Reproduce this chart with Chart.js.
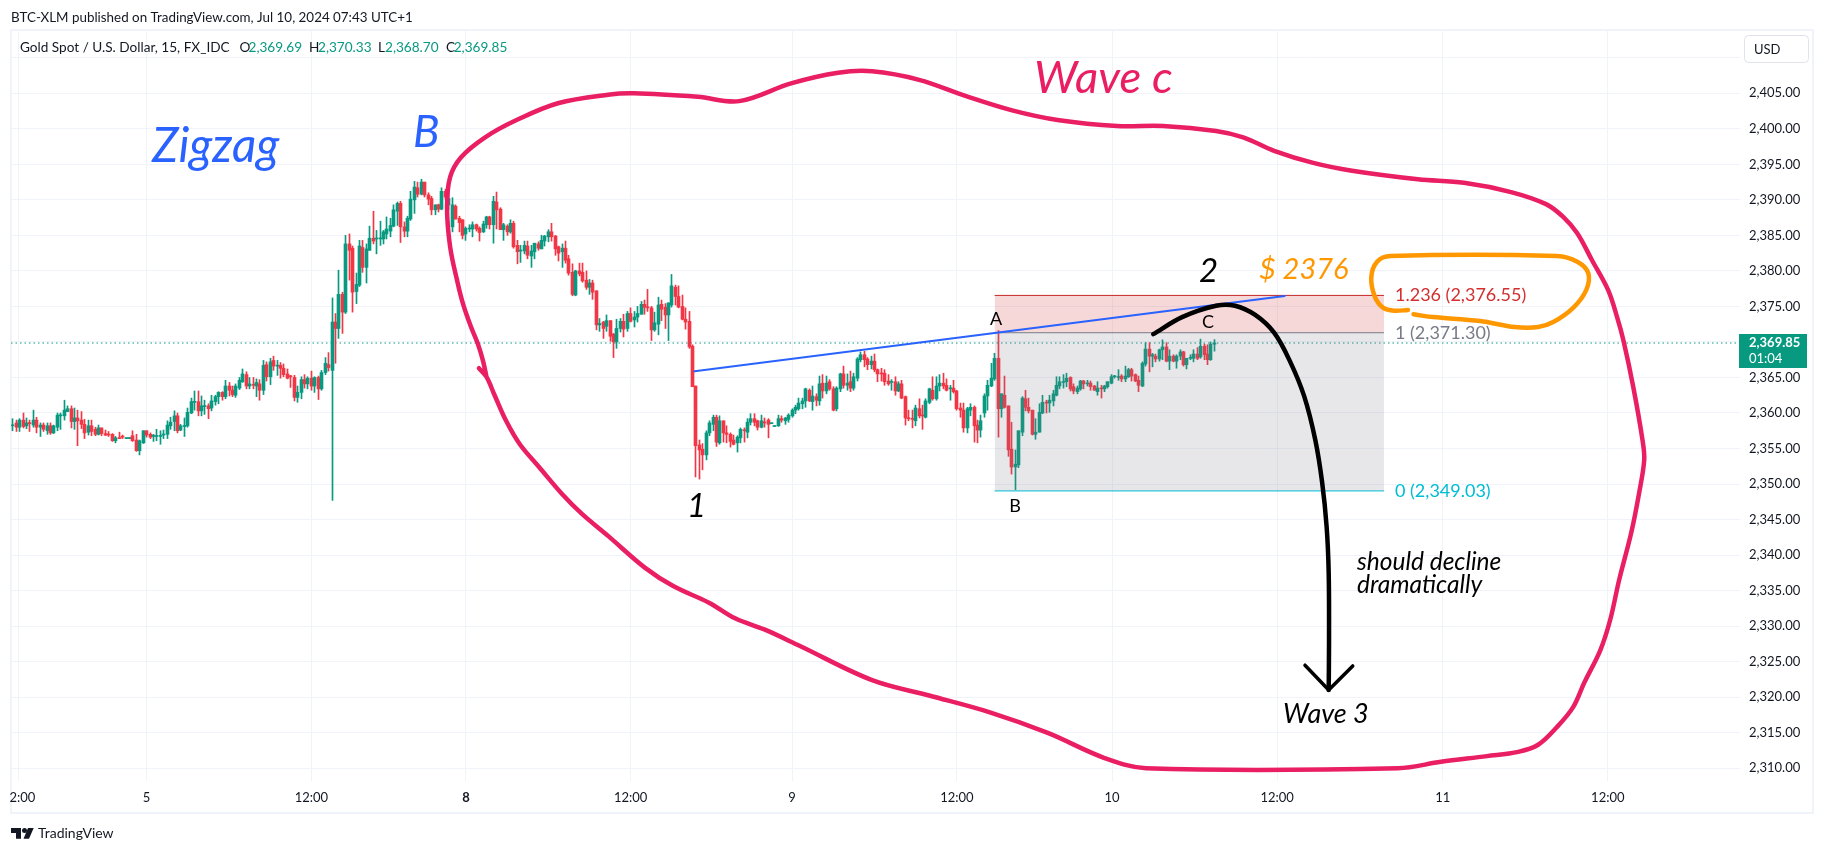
<!DOCTYPE html>
<html>
<head>
<meta charset="utf-8">
<title>Gold Spot / U.S. Dollar</title>
<script src="https://cdn.jsdelivr.net/npm/chart.js@4"></script>
<style>
  html, body { margin: 0; padding: 0; background: #fff; }
  #wrap { width: 1824px; height: 853px; }
</style>
</head>
<body>
<div id="wrap"><canvas id="goldChart" width="1824" height="853"></canvas></div>
<script>
// 15 min candles, one value per bar
const opens = [
2358.2,2358.6,2358.0,2359.0,2358.2,2358.6,2358.3,2359.0,2358.0,2358.3,
2357.5,2358.2,2357.2,2358.0,2359.6,2359.6,2360.2,2360.6,2358.8,2359.3,
2359.0,2358.4,2357.3,2358.2,2357.7,2357.0,2357.9,2357.1,2357.0,2357.0,
2356.1,2356.5,2356.7,2356.4,2356.4,2356.8,2356.2,2354.7,2355.8,2357.5,
2357.0,2356.7,2356.7,2356.7,2356.9,2357.0,2358.2,2358.8,2359.6,2357.6,
2358.1,2358.2,2360.0,2361.5,2361.6,2360.3,2360.9,2361.0,2360.7,2361.6,
2362.3,2362.9,2362.3,2363.8,2363.2,2362.5,2363.5,2364.4,2365.4,2363.8,
2364.0,2363.8,2364.1,2363.2,2366.8,2365.1,2367.4,2366.6,2366.7,2366.3,
2365.5,2365.2,2365.0,2362.2,2362.9,2364.7,2364.1,2364.9,2363.8,2365.0,
2363.4,2365.7,2366.8,2366.0,2372.8,2371.9,2376.7,2374.2,2383.8,2383.2,
2377.1,2378.0,2383.3,2380.5,2382.9,2384.6,2384.5,2384.5,2384.5,2385.2,
2385.6,2386.3,2388.4,2389.5,2386.2,2385.6,2387.3,2390.0,2391.7,2390.8,
2392.5,2390.7,2390.2,2388.6,2389.3,2388.7,2391.2,2389.3,2386.2,2389.1,
2387.4,2387.2,2385.2,2385.9,2385.9,2386.5,2386.0,2385.5,2386.5,2387.6,
2386.5,2389.7,2388.7,2385.8,2386.3,2385.5,2386.7,2383.6,2382.8,2382.8,
2383.5,2382.1,2382.7,2383.8,2383.1,2384.2,2384.8,2385.5,2384.9,2383.4,
2382.7,2383.2,2381.7,2379.8,2376.6,2380.0,2379.8,2378.7,2377.7,2378.3,
2377.2,2372.4,2372.8,2372.2,2373.0,2371.1,2370.0,2371.9,2372.9,2371.9,
2374.0,2373.1,2373.5,2373.9,2375.3,2374.9,2374.8,2371.7,2372.5,2375.3,
2374.9,2373.8,2375.2,2377.7,2376.4,2375.0,2373.2,2372.9,2369.4,2363.8,
2355.5,2354.9,2354.1,2357.2,2358.4,2359.4,2355.8,2358.9,2357.2,2357.0,
2356.2,2355.8,2356.5,2357.6,2357.3,2358.7,2359.2,2358.9,2358.0,2358.7,
2359.0,2358.5,2358.1,2358.2,2359.2,2358.9,2359.1,2359.6,2360.4,2360.6,
2361.3,2361.7,2363.2,2361.6,2362.3,2361.7,2364.2,2363.1,2364.4,2363.4,
2360.6,2363.4,2365.5,2363.9,2364.4,2363.5,2364.9,2367.5,2368.2,2367.6,
2366.8,2367.3,2366.1,2365.6,2365.6,2364.5,2364.3,2364.4,2363.1,2364.1,
2362.3,2359.3,2359.2,2358.9,2360.6,2359.7,2359.4,2361.5,2363.2,2362.0,
2363.8,2364.2,2363.9,2363.4,2363.5,2363.1,2360.7,2360.4,2357.9,2360.4,
2360.8,2358.3,2357.6,2360.0,2362.4,2363.8,2364.8,2367.7,2360.6,2362.5,
2361.0,2354.9,2352.4,2352.7,2357.3,2362.0,2360.8,2360.4,2357.0,2357.3,
2360.0,2361.5,2361.4,2361.7,2362.5,2363.8,2364.3,2364.4,2365.0,2363.7,
2363.0,2363.4,2364.5,2364.1,2364.2,2363.8,2363.0,2363.5,2363.4,2363.7,
2364.2,2365.1,2365.0,2365.2,2364.8,2365.1,2366.1,2365.4,2364.6,2363.8,
2366.9,2369.0,2368.0,2368.0,2367.6,2368.9,2369.3,2367.3,2368.0,2367.3,
2368.0,2368.6,2366.8,2367.7,2367.7,2368.3,2367.9,2369.4,2368.3,2367.5,2369.69
];
const highs = [
2359.2,2359.0,2359.2,2360.0,2359.3,2359.0,2360.4,2359.4,2358.6,2358.6,
2358.6,2358.6,2358.3,2360.0,2360.0,2361.8,2361.0,2361.0,2360.7,2360.4,
2360.2,2359.1,2359.0,2359.0,2358.0,2358.3,2357.9,2357.6,2357.4,2357.1,
2356.7,2357.3,2356.9,2356.5,2356.5,2357.5,2357.0,2356.2,2357.5,2357.5,
2357.2,2357.0,2357.7,2357.5,2357.6,2358.9,2359.4,2360.3,2360.0,2358.4,
2359.3,2360.7,2362.1,2363.1,2363.1,2362.4,2361.8,2361.3,2362.5,2362.5,
2363.0,2363.0,2364.6,2364.3,2363.8,2364.1,2365.0,2366.2,2365.8,2365.0,
2365.0,2364.8,2364.7,2367.4,2367.2,2367.7,2368.0,2367.4,2367.1,2366.9,
2366.2,2365.3,2365.3,2363.8,2365.1,2365.4,2365.1,2365.9,2365.1,2365.2,
2366.0,2367.8,2368.5,2376.2,2374.0,2380.1,2377.0,2385.0,2385.2,2383.5,
2379.7,2384.3,2384.3,2383.8,2386.3,2388.4,2385.7,2387.0,2385.7,2387.6,
2387.4,2389.3,2389.7,2389.8,2386.9,2387.7,2391.2,2392.6,2392.5,2392.9,
2392.5,2391.0,2390.5,2389.3,2389.4,2391.7,2391.5,2390.9,2390.3,2389.3,
2387.7,2387.2,2386.2,2386.5,2386.9,2386.6,2386.2,2387.0,2387.7,2387.7,
2390.5,2391.1,2388.9,2386.7,2386.5,2387.2,2387.0,2384.3,2383.6,2384.2,
2384.2,2383.6,2383.9,2384.1,2385.0,2385.0,2385.8,2386.7,2385.0,2383.5,
2383.8,2384.2,2382.2,2381.0,2380.1,2381.1,2381.1,2380.0,2378.8,2378.7,
2377.2,2373.3,2372.9,2373.8,2373.0,2371.2,2373.2,2373.3,2373.9,2374.3,
2374.8,2374.3,2375.0,2375.7,2375.9,2377.4,2375.0,2374.2,2376.3,2375.9,
2375.4,2375.5,2379.5,2378.0,2377.9,2376.6,2374.8,2374.3,2369.6,2363.8,
2356.2,2355.7,2357.5,2358.9,2359.7,2359.7,2359.6,2358.9,2358.2,2357.2,
2356.9,2356.8,2357.9,2357.9,2359.2,2359.9,2359.9,2359.0,2359.7,2359.3,
2359.2,2358.6,2358.2,2359.7,2359.6,2359.4,2359.9,2360.6,2361.1,2362.1,
2362.1,2363.5,2363.4,2363.8,2362.7,2365.2,2365.4,2365.2,2364.7,2363.7,
2363.7,2365.6,2366.6,2365.5,2365.9,2365.6,2367.8,2368.6,2368.7,2367.8,
2368.0,2368.3,2366.2,2366.3,2366.1,2365.4,2364.7,2365.1,2364.4,2364.6,
2362.4,2360.4,2360.4,2361.1,2362.0,2361.1,2362.0,2363.5,2365.1,2365.1,
2365.4,2365.6,2364.8,2363.9,2364.6,2363.2,2361.4,2361.4,2360.8,2361.3,
2361.0,2359.0,2359.7,2362.7,2364.6,2367.0,2368.4,2371.6,2362.7,2365.2,
2361.0,2358.7,2354.8,2357.5,2362.3,2363.2,2362.1,2360.4,2359.2,2361.3,
2362.5,2361.8,2362.5,2363.2,2365.1,2365.1,2365.4,2365.6,2365.1,2364.1,
2363.8,2364.6,2364.6,2364.6,2364.5,2363.9,2364.4,2363.9,2363.9,2364.4,
2365.4,2365.3,2366.1,2365.4,2366.6,2366.3,2366.3,2365.5,2365.2,2367.2,
2369.9,2369.9,2368.4,2368.3,2369.0,2370.3,2369.9,2368.9,2368.2,2368.2,
2368.9,2368.7,2367.7,2368.2,2368.9,2369.2,2370.4,2369.7,2369.6,2370.0,2370.33
];
const lows = [
2357.5,2357.4,2357.4,2357.9,2357.8,2357.4,2358.0,2357.2,2356.7,2357.4,
2357.0,2357.0,2357.1,2357.5,2357.7,2359.0,2360.2,2357.9,2357.7,2355.4,
2357.8,2356.4,2356.9,2356.8,2356.8,2356.9,2356.8,2356.8,2356.7,2356.0,
2355.8,2356.4,2356.4,2356.4,2356.4,2356.0,2354.6,2354.1,2355.7,2356.6,
2356.4,2356.0,2356.1,2355.6,2356.4,2356.4,2357.7,2357.5,2357.2,2357.5,
2356.7,2358.0,2359.9,2360.4,2359.6,2359.6,2359.8,2359.2,2360.3,2361.1,
2361.3,2361.8,2362.0,2362.4,2362.3,2362.2,2363.3,2364.3,2363.4,2363.4,
2363.4,2362.3,2361.8,2362.6,2364.5,2364.0,2366.0,2365.3,2364.9,2365.1,
2364.8,2363.6,2361.7,2361.5,2362.0,2363.5,2363.4,2363.2,2362.9,2361.9,
2363.2,2365.4,2365.9,2347.7,2367.0,2370.5,2371.2,2374.0,2378.7,2374.2,
2375.4,2377.8,2379.8,2378.3,2382.9,2383.8,2382.4,2383.6,2383.8,2384.5,
2384.8,2386.2,2386.4,2384.0,2384.8,2384.8,2387.1,2388.1,2390.4,2390.7,
2390.4,2389.3,2387.9,2387.9,2388.3,2388.6,2390.1,2388.6,2385.5,2387.3,
2385.5,2384.5,2384.3,2385.5,2384.8,2385.6,2384.2,2385.4,2386.0,2385.9,
2383.9,2385.9,2385.8,2384.3,2385.0,2385.3,2383.2,2381.0,2381.2,2382.4,
2381.7,2380.5,2381.7,2382.9,2383.1,2383.5,2384.1,2384.2,2382.2,2381.4,
2380.5,2381.1,2379.4,2376.5,2376.5,2379.3,2378.4,2377.4,2376.7,2376.0,
2371.7,2371.5,2370.5,2371.5,2370.1,2367.8,2369.1,2371.4,2370.7,2371.5,
2372.8,2372.1,2372.8,2373.9,2373.9,2374.3,2370.2,2371.5,2371.0,2373.0,
2371.9,2370.2,2374.9,2375.2,2374.8,2373.1,2371.8,2369.1,2363.7,2351.0,
2350.7,2352.0,2353.4,2356.8,2357.5,2355.3,2355.6,2355.9,2355.8,2355.2,
2355.5,2354.5,2355.8,2355.9,2356.5,2358.3,2358.2,2357.6,2357.9,2358.0,
2356.5,2358.5,2358.1,2358.1,2358.7,2358.4,2358.7,2359.4,2359.9,2360.4,
2360.6,2360.8,2361.6,2360.4,2361.0,2361.1,2362.1,2362.7,2363.2,2360.3,
2360.3,2363.0,2363.5,2363.2,2363.0,2363.2,2364.5,2367.2,2366.5,2366.1,
2366.2,2365.8,2364.4,2364.5,2363.9,2363.9,2363.2,2362.5,2363.0,2362.0,
2358.3,2358.9,2357.9,2358.2,2359.3,2357.7,2359.3,2361.3,2361.8,2361.8,
2363.1,2363.4,2363.1,2361.8,2362.8,2360.4,2359.4,2357.3,2357.2,2359.6,
2355.9,2355.8,2356.6,2359.4,2360.4,2363.7,2364.6,2356.6,2359.4,2360.7,
2353.9,2351.4,2349.2,2352.3,2356.8,2360.3,2360.0,2356.9,2356.3,2357.3,
2359.9,2360.0,2360.1,2361.0,2362.4,2363.4,2363.5,2363.7,2363.1,2362.7,
2362.7,2363.2,2363.4,2363.8,2363.2,2363.2,2362.5,2362.1,2363.0,2363.5,
2364.1,2364.9,2364.6,2364.4,2364.4,2365.0,2364.5,2364.4,2363.0,2363.7,
2366.6,2365.8,2366.5,2367.2,2367.3,2367.5,2367.2,2366.1,2367.2,2366.3,
2367.5,2366.6,2366.2,2367.5,2367.2,2367.5,2367.7,2367.5,2366.8,2367.4,2368.70
];
const closes = [
2358.3,2358.0,2359.0,2358.1,2358.6,2358.5,2359.0,2358.0,2358.3,2357.7,
2358.2,2357.2,2358.2,2359.7,2359.7,2360.4,2360.6,2358.8,2359.3,2358.9,
2358.4,2357.2,2358.2,2357.4,2357.0,2357.9,2357.1,2356.9,2356.9,2356.1,
2356.5,2356.4,2356.6,2356.5,2356.5,2356.1,2354.7,2356.1,2357.5,2356.9,
2356.6,2356.8,2356.8,2356.8,2357.0,2358.3,2358.7,2359.6,2357.5,2358.2,
2358.2,2360.1,2361.6,2361.6,2360.3,2361.0,2361.0,2360.6,2361.7,2362.3,
2362.9,2362.3,2363.8,2363.2,2362.6,2363.8,2364.6,2365.5,2363.8,2364.1,
2363.9,2364.3,2363.2,2366.7,2365.1,2367.2,2366.6,2366.7,2366.3,2365.4,
2364.9,2365.1,2362.2,2362.9,2364.7,2364.1,2364.9,2363.8,2365.0,2363.4,
2365.7,2367.0,2366.4,2372.8,2371.9,2376.7,2374.2,2383.8,2382.9,2377.0,
2378.1,2383.5,2380.5,2383.1,2384.6,2384.2,2384.6,2384.6,2385.5,2385.9,
2386.4,2388.6,2389.5,2386.2,2385.6,2387.4,2390.1,2391.8,2390.8,2392.5,
2390.7,2390.1,2388.6,2389.3,2388.7,2391.2,2390.4,2390.2,2389.3,2387.3,
2386.8,2385.0,2386.0,2386.0,2386.5,2385.9,2385.4,2386.6,2387.6,2386.5,
2389.8,2388.6,2385.8,2386.5,2385.5,2386.7,2383.4,2382.7,2382.9,2383.6,
2382.2,2382.8,2383.9,2383.2,2384.3,2384.9,2385.5,2384.8,2383.1,2382.5,
2383.2,2381.5,2379.7,2376.7,2380.0,2379.6,2378.6,2377.7,2378.3,2377.0,
2372.4,2372.6,2371.9,2373.0,2370.8,2370.0,2371.9,2372.9,2371.8,2374.0,
2372.9,2373.5,2374.0,2375.3,2374.9,2374.8,2371.7,2372.7,2375.2,2374.6,
2373.8,2375.5,2377.9,2376.4,2374.9,2373.2,2372.8,2369.3,2363.7,2355.4,
2354.8,2354.1,2357.2,2358.6,2359.4,2355.9,2358.9,2357.2,2357.0,2356.0,
2355.6,2356.6,2357.7,2357.5,2358.7,2359.2,2358.7,2358.0,2358.9,2358.6,
2358.4,2358.6,2358.2,2359.2,2359.0,2359.3,2359.7,2360.4,2360.8,2361.4,
2361.7,2363.4,2361.7,2362.4,2361.8,2364.1,2363.1,2364.2,2363.4,2360.4,
2363.5,2365.5,2363.9,2364.2,2363.5,2365.1,2367.6,2368.2,2367.5,2366.8,
2367.3,2366.1,2365.5,2365.5,2364.4,2364.1,2364.4,2363.1,2364.1,2362.1,
2359.3,2359.2,2359.1,2360.7,2359.6,2359.6,2361.7,2363.4,2362.0,2363.8,
2364.2,2363.8,2363.2,2363.5,2363.0,2360.6,2360.4,2357.9,2360.6,2360.8,
2358.2,2357.6,2358.9,2362.4,2363.9,2364.9,2367.7,2360.6,2362.7,2360.8,
2354.8,2352.4,2352.8,2357.5,2362.1,2360.8,2360.3,2357.0,2357.3,2360.1,
2361.5,2361.4,2361.8,2362.7,2363.9,2364.4,2364.4,2364.9,2363.4,2363.1,
2363.5,2364.5,2364.1,2364.2,2363.7,2363.2,2363.5,2363.4,2363.8,2364.4,
2365.1,2365.2,2365.1,2364.8,2365.2,2366.1,2365.2,2364.5,2363.9,2367.0,
2369.0,2368.0,2368.2,2367.6,2368.9,2369.3,2367.3,2368.0,2367.3,2368.0,
2368.6,2366.8,2367.7,2367.8,2368.3,2367.7,2369.4,2368.2,2367.5,2369.7,2369.85
];

// axes: x is the bar number, so weekend gaps close up like on the original
const timeTickBars = [1.7, 39, 87, 132, 180, 227, 275, 320.2, 368.3, 416.5, 464.6];
const timeTickLabels = ['12:00', '5', '12:00', '8', '12:00', '9', '12:00', '10', '12:00', '11', '12:00'];
const priceTicks = [2310, 2315, 2320, 2325, 2330, 2335, 2340, 2345, 2350, 2355, 2360, 2365, 2370,
  2375, 2380, 2385, 2390, 2395, 2400, 2405, 2410];
const hiddenPriceTicks = [2370, 2410];
const lastPrice = 2369.85;

// fib levels
const fibStartBar = 286;
const fibEndBar = 399.4;
const fibTop = 2376.55;
const fibOne = 2371.30;
const fibZero = 2349.03;

// hand drawn lines, as [bar, price]
const trendLine = [[198.6, 2365.87], [370.5, 2376.47]];
const waveCurve = [
  [135.8,2366.3],[138.0,2365.07],[140.2,2362.68],[143.7,2358.9],[147.7,2355.6],[153.3,2352.4],[160.0,2348.6],
  [165.8,2345.8],[173.4,2342.7],[184.2,2338.2],[192.5,2335.6],[202.8,2333.3],[210.4,2331.1],[219.1,2329.5],
  [229.3,2327.2],[250.3,2322.4],[267.2,2320.2],[284.4,2317.9],[301.3,2315.0],[318.2,2311.4],[330.1,2310.0],
  [403.5,2310.0],[416.0,2310.9],[429.4,2311.7],[438.5,2312.3],[444.3,2313.3],[449.8,2315.8],[454.5,2318.6],
  [457.7,2322.0],[462.4,2326.6],[465.3,2330.9],[467.9,2336.5],[471.4,2343.1],[473.7,2348.7],[475.2,2353.4],
  [474.7,2356.2],[472.0,2363.7],[469.1,2370.3],[467.3,2373.5],[464.7,2377.3],[460.0,2381.5],[455.7,2385.3],
  [451.6,2387.6],[446.6,2389.4],[436.4,2391.1],[422.7,2392.4],[409.3,2392.9],[390.1,2394.1],[378.8,2395.2],
  [367.4,2396.9],[358.4,2398.8],[350.5,2399.7],[335.1,2400.4],[321.7,2400.4],[304.8,2401.2],[291.1,2402.6],
  [277.7,2404.6],[264.0,2406.9],[250.3,2408.1],[240.4,2407.9],[226.7,2406.4],[211.6,2403.9],[199.6,2404.5],
  [181.0,2405.0],[173.4,2404.8],[158.8,2403.6],[146.6,2401.2],[137.6,2398.8],[130.6,2396.0],[127.4,2393.2],
  [126.5,2389.0],[127.4,2383.4],[129.6,2378.3],[131.2,2375.3],[133.5,2372.1],[135.5,2369.7],[137.0,2367.3],
  [138.0,2365.07]
];
const targetLoop = [
  [408.0,2373.9],[409.2,2373.8],[413.7,2373.5],[427.4,2372.95],[437.5,2372.1],[444.3,2372.1],[448.7,2372.8],
  [454.5,2374.8],[458.3,2377.3],[458.9,2379.7],[455.7,2381.3],[449.8,2382.1],[401.3,2382.1],[397.4,2381.3],
  [395.7,2379.1],[396.8,2376.3],[399.2,2374.8],[402.4,2374.4],[406.4,2374.5]
];
const declineCurve = [
  [332.2,2371.1],[340.6,2373.5],[350.5,2375.1],[356.0,2375.1],[361.9,2373.8],[367.4,2371.3],[372.1,2367.2],
  [376.2,2362.3],[379.4,2356.2],[381.4,2350.2],[382.7,2343.96],[383.3,2337.5],[383.4,2328.0],[383.3,2321.0]
];
const arrowHead = [[376.4,2324.5],[383.3,2321.0],[390.3,2324.4]];

const UP = '#089981';
const DOWN = '#F23645';
const PINK = '#E91E63';
const BLUE = '#2962FF';
const ORANGE = '#FF9800';
const GRID = '#F0F3FA';
const UI = 'Lato, sans-serif';

const xy = pts => pts.map(p => ({ x: p[0], y: p[1] }));
const candleColors = closes.map((c, i) => c >= opens[i] ? UP : DOWN);
const fmt = v => v.toLocaleString('en-US', { minimumFractionDigits: 2, maximumFractionDigits: 2 });

function drawing(points, color, width, order, extra) {
    return Object.assign({
        type: 'line',
        data: xy(points),
        borderColor: color,
        borderWidth: width,
        pointRadius: 0,
        tension: 0,
        fill: false,
        order: order,
        borderCapStyle: 'round',
        borderJoinStyle: 'round'
    }, extra || {});
}

// keeps 1px wicks sharp instead of smeared over two columns
const snapBars = {
    id: 'snapBars',
    afterDatasetsUpdate(chart) {
        chart.getSortedVisibleDatasetMetas().forEach(meta => {
            if (meta.type !== 'bar') return;
            meta.data.forEach(el => { el.x = Math.floor(el.x) + 0.5; });
        });
    }
};

function put(ctx, text, x, y, font, color, align) {
    ctx.font = font;
    ctx.fillStyle = color;
    ctx.textAlign = align || 'left';
    ctx.textBaseline = 'alphabetic';
    ctx.fillText(text, x, y);
}

// frame, header, footer and the price box
const frame = {
    id: 'frame',
    beforeDraw(chart) {
        const ctx = chart.ctx;
        ctx.save();
        ctx.strokeStyle = GRID;
        ctx.lineWidth = 2;
        ctx.strokeRect(11, 30, 1802, 783);
        ctx.restore();
    },
    afterDraw(chart) {
        const ctx = chart.ctx;
        const y = chart.scales.y;
        ctx.save();
        // the first time label runs off the pane on the left
        ctx.fillStyle = '#fff';
        ctx.fillRect(0, 785, 10, 26);

        put(ctx, 'BTC-XLM published on TradingView.com, Jul 10, 2024 07:43 UTC+1', 11, 22, '13.4px ' + UI, '#131722');

        put(ctx, 'Gold Spot / U.S. Dollar, 15, FX_IDC', 20, 52, '13.6px ' + UI, '#131722');
        const quote = [['O', 239.5, '2,369.69', 248.5], ['H', 309, '2,370.33', 318], ['L', 378, '2,368.70', 385], ['C', 446, '2,369.85', 453.7]];
        quote.forEach(q => {
            put(ctx, q[0], q[1], 52, '13.6px ' + UI, '#131722');
            put(ctx, q[2], q[3], 52, '13.6px ' + UI, UP);
        });

        // USD button
        ctx.strokeStyle = '#E0E3EB';
        ctx.lineWidth = 1;
        ctx.beginPath();
        ctx.roundRect(1744.5, 35.5, 64, 27, 4);
        ctx.stroke();
        put(ctx, 'USD', 1754, 54, '13px ' + UI, '#131722');

        // last price tag
        ctx.fillStyle = UP;
        ctx.fillRect(1739, 334, 68, 34);
        put(ctx, fmt(lastPrice), 1749, 347, 'bold 13px ' + UI, '#fff');
        put(ctx, '01:04', 1749, 363, '13px ' + UI, '#fff');

        // fib labels follow the levels
        put(ctx, '1.236 (2,376.55)', 1395, y.getPixelForValue(fibTop) + 6, '18px ' + UI, '#D32F2F');
        put(ctx, '1 (2,371.30)', 1395, y.getPixelForValue(fibOne) + 6, '18px ' + UI, '#787B86');
        put(ctx, '0 (2,349.03)', 1395, y.getPixelForValue(fibZero) + 6, '18px ' + UI, '#00BCD4');

        // annotations
        const it = size => 'italic ' + size + 'px ' + UI;
        put(ctx, 'Zigzag', 152, 162, it(47.5), BLUE);
        put(ctx, 'B', 413, 147, it(44), BLUE);
        put(ctx, 'Wave c', 1034, 93, it(45.5), PINK);
        put(ctx, '$ 2376', 1259, 279, it(29), ORANGE);
        put(ctx, '2', 1199, 282, it(33), '#000');
        put(ctx, '1', 687, 517, it(33), '#000');
        put(ctx, 'A', 996, 325, '18px ' + UI, '#000', 'center');
        put(ctx, 'B', 1015, 512, '18px ' + UI, '#000', 'center');
        put(ctx, 'C', 1208, 328, '18px ' + UI, '#000', 'center');
        put(ctx, 'should decline', 1357, 570, it(24.5), '#000');
        put(ctx, 'dramatically', 1357, 593, it(24.5), '#000');
        put(ctx, 'Wave 3', 1283, 723, it(27), '#000');

        // logo and footer
        ctx.fillStyle = '#131722';
        ctx.beginPath();
        ctx.moveTo(11, 828); ctx.lineTo(21, 828); ctx.lineTo(21, 838.7); ctx.lineTo(16, 838.7);
        ctx.lineTo(16, 833); ctx.lineTo(11, 833); ctx.closePath();
        ctx.moveTo(33.7, 828); ctx.lineTo(29, 838.7); ctx.lineTo(23.5, 838.7); ctx.lineTo(28, 828); ctx.closePath();
        ctx.fill();
        ctx.beginPath();
        ctx.arc(24.5, 830.5, 2.5, 0, Math.PI * 2);
        ctx.fill();
        put(ctx, 'TradingView', 38, 838, '14px ' + UI, '#131722');
        ctx.restore();
    }
};

new Chart(document.getElementById('goldChart').getContext('2d'), {
    type: 'bar',
    data: {
        datasets: [
            drawing([[-0.5, lastPrice], [503.1, lastPrice]], UP, 1.2, 50, { borderDash: [1.5, 3], borderCapStyle: 'butt' }),
            {
                type: 'bar',
                data: highs.map((h, i) => ({ x: i, y: [lows[i], h] })),
                backgroundColor: candleColors,
                barThickness: 1,
                grouped: false,
                order: 40
            },
            {
                type: 'bar',
                data: opens.map((o, i) => ({ x: i, y: [o, closes[i]] })),
                backgroundColor: candleColors,
                barThickness: 3,
                minBarLength: 1,
                grouped: false,
                order: 39
            },
            drawing([[fibStartBar, fibTop], [fibEndBar, fibTop]], '#C62828', 1, 30,
                { fill: { value: fibOne }, backgroundColor: 'rgba(204,40,40,0.18)', borderCapStyle: 'butt' }),
            drawing([[fibStartBar, fibOne], [fibEndBar, fibOne]], '#787B86', 1, 29,
                { fill: { value: fibZero }, backgroundColor: 'rgba(120,123,134,0.18)', borderCapStyle: 'butt' }),
            drawing([[fibStartBar, fibZero], [fibEndBar, fibZero]], '#00BCD4', 1, 28, { borderCapStyle: 'butt' }),
            drawing(trendLine, BLUE, 2, 20),
            drawing(declineCurve, '#000', 4.5, 12, { tension: 0.35 }),
            drawing(arrowHead, '#000', 3.5, 11),
            drawing(targetLoop, ORANGE, 4.5, 10, { tension: 0.35 }),
            drawing(waveCurve, PINK, 4.5, 9, { tension: 0.35 })
        ]
    },
    options: {
        responsive: false,
        animation: false,
        events: [],
        layout: { padding: { left: 11, right: 11, top: 31, bottom: 39 } },
        plugins: { legend: { display: false }, tooltip: { enabled: false }, title: { display: false } },
        scales: {
            x: {
                type: 'linear',
                min: -0.5,
                max: 503.1,
                offset: false,
                afterBuildTicks: axis => { axis.ticks = timeTickBars.map(v => ({ value: v })); },
                // the first label is meant to be cut off, so no room for it in the layout
                afterFit: axis => { axis.height = 33; axis.paddingLeft = 0; axis.paddingRight = 0; },
                grid: { color: GRID, offset: false, drawTicks: false },
                border: { display: false },
                ticks: {
                    autoSkip: false,
                    maxRotation: 0,
                    padding: 9,
                    color: '#131722',
                    font: ctx => ({ family: UI, size: 13, weight: ctx.tick && ctx.tick.value === 132 ? 'bold' : 'normal' }),
                    callback: v => timeTickLabels[timeTickBars.indexOf(v)]
                }
            },
            y: {
                type: 'linear',
                position: 'right',
                min: 2308.2,
                max: 2413.77,
                afterBuildTicks: axis => { axis.ticks = priceTicks.map(v => ({ value: v })); },
                afterFit: axis => { axis.width = 73; },
                grid: { color: GRID, drawTicks: false },
                border: { display: false },
                ticks: {
                    padding: 9,
                    color: '#131722',
                    font: { family: UI, size: 13 },
                    callback: v => hiddenPriceTicks.includes(v) ? '' : fmt(v)
                }
            }
        }
    },
    plugins: [snapBars, frame]
});
</script>
</body>
</html>
